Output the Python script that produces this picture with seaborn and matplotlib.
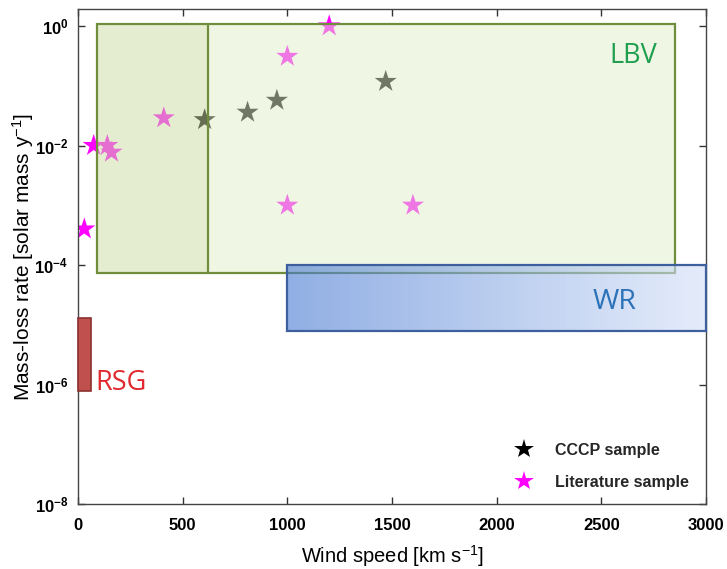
import matplotlib
matplotlib.use('Agg')
import matplotlib.pyplot as plt
from matplotlib.patches import Rectangle
from matplotlib.colors import LinearSegmentedColormap
import matplotlib.ticker as mticker
import numpy as np
import pandas as pd
import seaborn as sns

# star samples (wind speed km/s, mass-loss rate Msun/yr)
cccp_speed = [605, 810, 950, 1470]
cccp_mdot = [2.7e-2, 3.6e-2, 5.7e-2, 0.118]
lit_speed = [30, 75, 140, 160, 410, 1000, 1000, 1200, 1600]
lit_mdot = [4e-4, 1e-2, 1e-2, 7.7e-3, 2.9e-2, 0.31, 1e-3, 1.0, 1e-3]

# regions (speed range, mdot range)
lbv_speed = [90, 620, 2850]
lbv_mdot = [7.4e-5, 1.1]
wr_speed = [1000, 3000]
wr_mdot = [8e-6, 1e-4]
rsg_speed = [0, 60]
rsg_mdot = [7.8e-7, 1.3e-5]

x_ticks = [0, 500, 1000, 1500, 2000, 2500, 3000]
y_ticks = [1e-8, 1e-6, 1e-4, 1e-2, 1e0]

df = pd.DataFrame({
    'speed': cccp_speed + lit_speed,
    'mdot': cccp_mdot + lit_mdot,
    'sample': ['CCCP sample'] * len(cccp_speed) + ['Literature sample'] * len(lit_speed),
})

sns.set_theme(style='white')
plt.rcParams['font.family'] = ['Liberation Sans', 'DejaVu Sans']
plt.rcParams['mathtext.default'] = 'regular'

fig = plt.figure(figsize=(7.27, 5.69), dpi=100)
ax = fig.add_axes([0.1073, 0.1142, 0.8638, 0.8700])

sns.scatterplot(
    data=df,
    ax=ax,
    x='speed',
    y='mdot',
    hue='sample',
    palette={'CCCP sample': 'black', 'Literature sample': '#ff00ff'},
    marker='*',
    s=280,
    linewidth=0,
    zorder=2,
    )

# LBV box, darker left part
ax.add_patch(Rectangle((lbv_speed[0], lbv_mdot[0]), lbv_speed[1] - lbv_speed[0], lbv_mdot[1] - lbv_mdot[0],
                       facecolor=(205 / 255, 220 / 255, 165 / 255), alpha=0.5, edgecolor='none', zorder=3))
ax.add_patch(Rectangle((lbv_speed[1], lbv_mdot[0]), lbv_speed[2] - lbv_speed[1], lbv_mdot[1] - lbv_mdot[0],
                       facecolor=(225 / 255, 239 / 255, 201 / 255), alpha=0.5, edgecolor='none', zorder=3))
ax.add_patch(Rectangle((lbv_speed[0], lbv_mdot[0]), lbv_speed[2] - lbv_speed[0], lbv_mdot[1] - lbv_mdot[0],
                       facecolor='none', edgecolor='#6f8d3a', linewidth=1.6, zorder=3.1))
ax.plot([lbv_speed[1], lbv_speed[1]], lbv_mdot, color='#6f8d3a', linewidth=1.6, zorder=3.1)

# WR box with horizontal gradient
wr_cmap = LinearSegmentedColormap.from_list('wr', [(72 / 255, 122 / 255, 210 / 255), (210 / 255, 223 / 255, 247 / 255)])
xe = np.linspace(wr_speed[0], wr_speed[1], 121)
ax.pcolormesh(xe, wr_mdot, xe[:-1].reshape(1, -1), cmap=wr_cmap, alpha=0.6, shading='flat', zorder=4)
ax.add_patch(Rectangle((wr_speed[0], wr_mdot[0]), wr_speed[1] - wr_speed[0], wr_mdot[1] - wr_mdot[0],
                       facecolor='none', edgecolor='#3d5f9e', linewidth=1.6, zorder=4.1, clip_on=False))

# RSG box
ax.add_patch(Rectangle((rsg_speed[0], rsg_mdot[0]), rsg_speed[1] - rsg_speed[0], rsg_mdot[1] - rsg_mdot[0],
                       facecolor='#c0504d', edgecolor='#8c3230', linewidth=1.2, zorder=3, clip_on=False))

ax.text(2766, 0.32, 'LBV', color='#1f9f4f', fontsize=19.5, family='Open Sans', ha='right', va='center', zorder=5)
ax.text(2666, 2.4e-5, 'WR', color='#2c72b8', fontsize=20.5, family='Open Sans', ha='right', va='center', zorder=5)
ax.text(81, 1.05e-6, 'RSG', color='#e0292e', fontsize=19.5, family='Open Sans', ha='left', va='center', zorder=5)

ax.set_yscale('log')
ax.set_xlim(0, 3000)
ax.set_ylim(1e-8, 1.93)
ax.set_xticks(x_ticks)
ax.set_yticks(y_ticks)
ax.yaxis.set_minor_locator(mticker.NullLocator())
ax.tick_params(direction='in', length=5, width=1, colors='#333333', labelcolor='black', labelsize=12,
               top=True, right=True, bottom=True, left=True)
ax.tick_params(axis='x', pad=10)
ax.tick_params(axis='y', pad=7)
for lbl in ax.get_xticklabels() + ax.get_yticklabels():
    lbl.set_fontweight('bold')
for s in ax.spines.values():
    s.set_color('#444444')
    s.set_linewidth(1.0)
ax.set_xlabel('Wind speed [km s$^{-1}$]', fontsize=14.5, labelpad=7, color='black')
ax.set_ylabel('Mass-loss rate [solar mass y$^{-1}$]', fontsize=15, labelpad=-1, color='black')

handles, labels = ax.get_legend_handles_labels()
ax.legend(handles, labels, loc='lower right', bbox_to_anchor=(0.995, 0.0), frameon=False,
          prop={'size': 11.5, 'weight': 'bold'}, markerscale=0.9, labelspacing=1.05, handletextpad=0.9)

plt.savefig('out.png', dpi=100)
